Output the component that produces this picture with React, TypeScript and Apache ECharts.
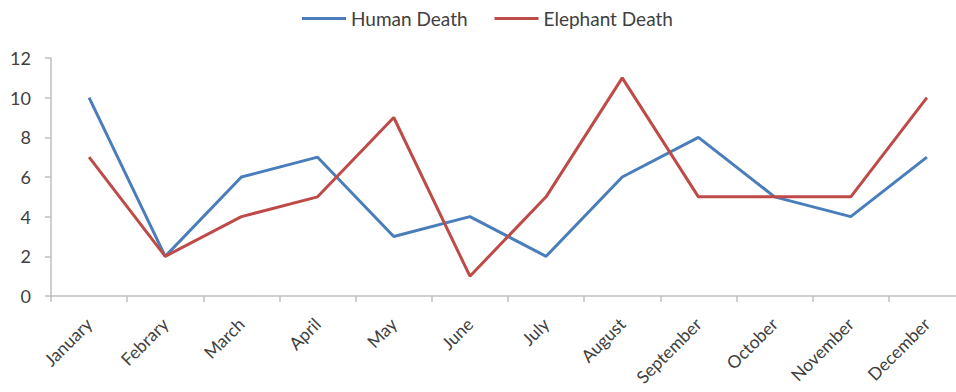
import React, { useEffect, useRef } from "react";
import * as echarts from "echarts";

const months = ["January", "Febrary", "March", "April", "May", "June", "July", "August", "September", "October", "November", "December"];
const humanDeath = [10, 2, 6, 7, 3, 4, 2, 6, 8, 5, 4, 7];
const elephantDeath = [7, 2, 4, 5, 9, 1, 5, 11, 5, 5, 5, 10];

const FONT = "Lato, 'Open Sans', sans-serif";

export default function App() {
  const ref = useRef<HTMLDivElement>(null);
  useEffect(() => {
    if (!ref.current) return;
    const chart = echarts.init(ref.current, undefined, { renderer: "svg" });
    const axisColor = "#bfbfbf";
    chart.setOption({
      animation: false,
      backgroundColor: "#ffffff",
      textStyle: { fontFamily: FONT },
      legend: {
        top: 4,
        left: 297,
        itemWidth: 44,
        itemHeight: 3,
        itemGap: 27,
        icon: "rect",
        textStyle: { fontSize: 19, color: "#404040", fontFamily: FONT },
        data: ["Human Death", "Elephant Death"],
      },
      grid: { left: 51, right: 0, top: 58, height: 238, containLabel: false },
      xAxis: {
        type: "category",
        data: months,
        boundaryGap: true,
        axisLine: { lineStyle: { color: axisColor, width: 1.5 } },
        axisTick: { show: true, length: 6, lineStyle: { color: axisColor, width: 1.5 } },
        axisLabel: { rotate: 45, margin: 25, fontSize: 17.5, color: "#404040", fontFamily: FONT, interval: 0 },
        splitLine: { show: false },
      },
      yAxis: {
        type: "value",
        min: 0,
        max: 12,
        interval: 2,
        axisLine: { show: true, lineStyle: { color: axisColor, width: 1.5 } },
        axisTick: { show: true, length: 6, lineStyle: { color: axisColor, width: 1.5 } },
        axisLabel: { margin: 20, fontSize: 18, color: "#404040", fontFamily: FONT },
        splitLine: { show: false },
      },
      series: [
        {
          name: "Human Death",
          type: "line",
          data: humanDeath,
          symbol: "none",
          lineStyle: { width: 3, color: "#4a7ebb" },
          itemStyle: { color: "#4a7ebb" },
        },
        {
          name: "Elephant Death",
          type: "line",
          data: elephantDeath,
          symbol: "none",
          lineStyle: { width: 3, color: "#be4b48" },
          itemStyle: { color: "#be4b48" },
        },
      ],
    });
    return () => chart.dispose();
  }, []);
  return (
    <div
      ref={ref}
      style={{ position: "fixed", left: 0, top: 0, width: 965, height: 392, background: "#fff" }}
    />
  );
}
